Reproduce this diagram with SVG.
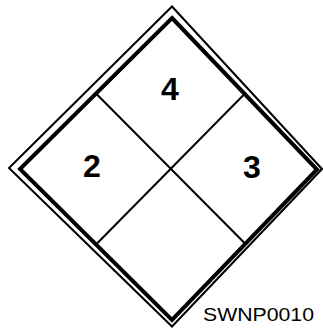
<svg xmlns="http://www.w3.org/2000/svg" width="323" height="328" viewBox="0 0 323 328">
<style>
.num{font-family:"Liberation Sans",Arial,sans-serif;font-weight:bold;font-size:32px;fill:#000;text-anchor:middle}
.lbl{font-family:"Liberation Sans",Arial,sans-serif;font-size:19px;fill:#000}
.ln{stroke:#000;fill:none}
</style>
<rect width="323" height="328" fill="#fff"/>
<g id="border">
<polygon class="ln" stroke-width="2" points="172,6.5 322,169 172,326.5 9,168"/>
<polygon class="ln" stroke-width="4" points="172,18 317,169.5 172,320 20,169"/>
</g>
<g id="connectors">
<line class="ln" stroke-width="2" x1="96" y1="93.5" x2="246" y2="244.5"/>
<line class="ln" stroke-width="2" x1="245" y1="93.5" x2="96" y2="244.5"/>
</g>
<g id="health"><text class="num" x="92" y="177">2</text></g>
<g id="flammability"><text class="num" x="170" y="100">4</text></g>
<g id="reactivity"><text class="num" x="252" y="178">3</text></g>
<g id="caption"><text class="lbl" x="203" y="321" textLength="111" lengthAdjust="spacingAndGlyphs">SWNP0010</text></g>
</svg>
